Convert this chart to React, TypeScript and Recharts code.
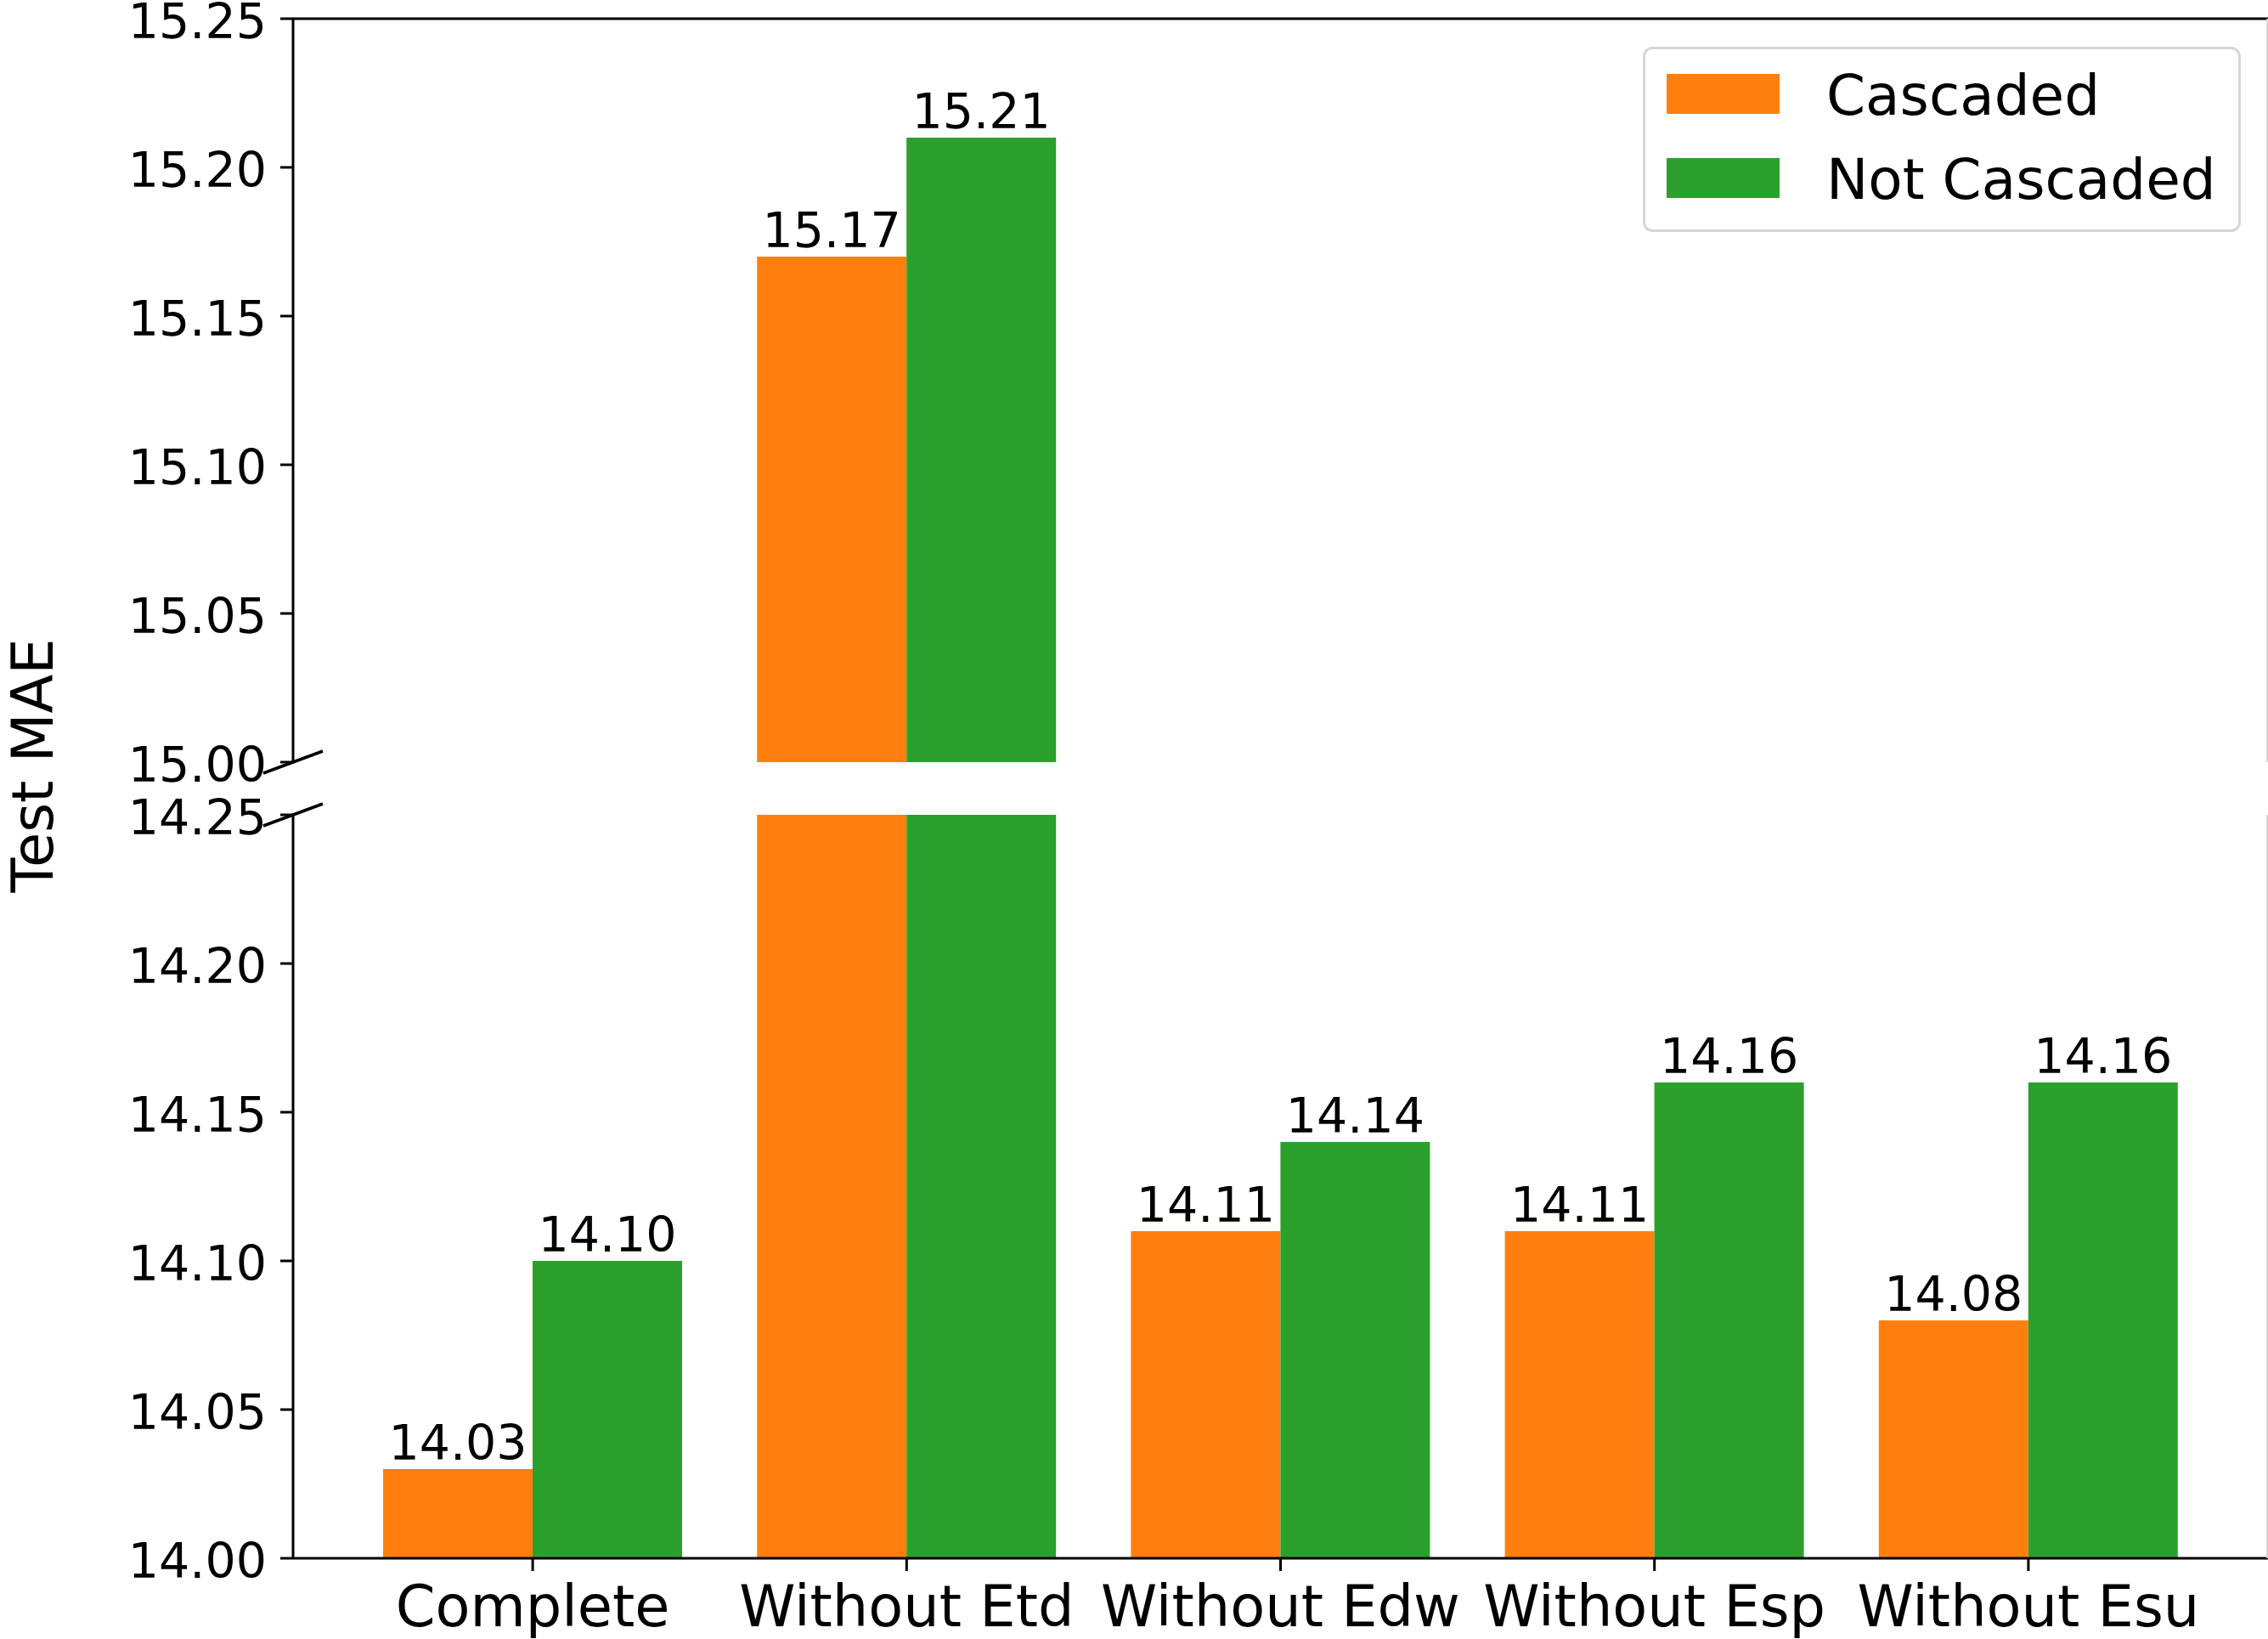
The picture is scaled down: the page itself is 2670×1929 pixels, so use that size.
import React from "react"
import { BarChart, Bar, XAxis, YAxis, Legend, LabelList } from "recharts"

const categories = ["Complete", "Without Etd", "Without Edw", "Without Esp", "Without Esu"]
const cascaded = [14.03, 15.17, 14.11, 14.11, 14.08]
const notCascaded = [14.1, 15.21, 14.14, 14.16, 14.16]

const upperTicks = [15.0, 15.05, 15.1, 15.15, 15.2, 15.25]
const lowerTicks = [14.0, 14.05, 14.1, 14.15, 14.2, 14.25]

const ORANGE = "#ff7f0e"
const GREEN = "#2ca02c"
const FONT = "DejaVu Sans"

const W = 2670
const H = 1929
const AXIS_X = 345
const UPPER_TOP = 22
const UPPER_BOTTOM = 897
const LOWER_TOP = 959
const LOWER_BOTTOM = 1834

const rows = categories.map((name, i) => ({ name, cascaded: cascaded[i], notCascaded: notCascaded[i] }))

// the upper panel only gets the values that reach into its range
const upperRows = rows.map((r) => ({
  name: r.name,
  cascaded: r.cascaded >= upperTicks[0] ? r.cascaded : null,
  notCascaded: r.notCascaded >= upperTicks[0] ? r.notCascaded : null,
}))

const makeLabel = (max: number) => (props: any) => {
  const { x, y, width, value } = props
  if (value == null || value > max) return null
  return (
    <text x={x + width / 2} y={y - 11} textAnchor="middle" fontFamily={FONT} fontSize={57} fill="#000">
      {Number(value).toFixed(2)}
    </text>
  )
}

const YTick = (props: any) => {
  const { x, y, payload } = props
  return (
    <text x={x} y={y} dy="0.4em" textAnchor="end" fontFamily={FONT} fontSize={57} fill="#000">
      {Number(payload.value).toFixed(2)}
    </text>
  )
}

const LegendBox = (props: any) => {
  const items = props.payload || []
  return (
    <svg width={704} height={218} style={{ display: "block" }}>
      <rect x={1.5} y={1.5} width={701} height={215} rx={10} fill="#fff" stroke="#d6d6d6" strokeWidth={3} />
      {items.map((it: any, i: number) => (
        <g key={it.value}>
          <rect x={28} y={32 + i * 99} width={133} height={47} fill={it.color} />
          <text x={216} y={80 + i * 99} fontFamily={FONT} fontSize={66} fill="#000">
            {it.value}
          </text>
        </g>
      ))}
    </svg>
  )
}

const axisLine = { stroke: "#000", strokeWidth: 3 }
const tickLine = { stroke: "#000", strokeWidth: 3 }

export default function App() {
  return (
    <div style={{ position: "absolute", left: 0, top: 0, width: W, height: H, background: "#fff" }}>
      <div style={{ position: "absolute", left: 0, top: 0 }}>
        <BarChart
          width={W}
          height={UPPER_BOTTOM + 40}
          data={upperRows}
          margin={{ top: 0, right: 0, left: 0, bottom: 40 }}
          barGap={0}
          barCategoryGap={44}
        >
          <XAxis
            dataKey="name"
            orientation="top"
            height={UPPER_TOP}
            tick={false}
            tickSize={15}
            axisLine={axisLine}
            tickLine={tickLine}
            padding={{ left: 62, right: 62 }}
          />
          <YAxis
            width={AXIS_X}
            domain={[15.0, 15.25]}
            ticks={upperTicks}
            interval={0}
            allowDataOverflow
            tick={<YTick />}
            tickSize={15}
            tickMargin={16}
            axisLine={axisLine}
            tickLine={tickLine}
          />
          <Legend
            layout="horizontal"
            verticalAlign="middle"
            align="center"
            content={<LegendBox />}
            wrapperStyle={{ position: "absolute", left: 1934, top: 55, width: 704, height: 218 }}
          />
          <Bar dataKey="cascaded" name="Cascaded" fill={ORANGE} isAnimationActive={false}>
            <LabelList dataKey="cascaded" content={makeLabel(15.25)} />
          </Bar>
          <Bar dataKey="notCascaded" name="Not Cascaded" fill={GREEN} isAnimationActive={false}>
            <LabelList dataKey="notCascaded" content={makeLabel(15.25)} />
          </Bar>
        </BarChart>
      </div>
      <div style={{ position: "absolute", left: 0, top: 0 }}>
        <BarChart width={W} height={H} data={rows} margin={{ top: LOWER_TOP, right: 0, left: 0, bottom: 0 }} barGap={0} barCategoryGap={44}>
          <XAxis
            dataKey="name"
            height={H - LOWER_BOTTOM}
            tick={{ fontFamily: FONT, fontSize: 67, fill: "#000" }}
            tickSize={15}
            tickMargin={17}
            axisLine={axisLine}
            tickLine={tickLine}
            interval={0}
            padding={{ left: 62, right: 62 }}
          />
          <YAxis
            width={AXIS_X}
            domain={[14.0, 14.25]}
            ticks={lowerTicks}
            interval={0}
            allowDataOverflow
            tick={<YTick />}
            tickSize={15}
            tickMargin={16}
            axisLine={axisLine}
            tickLine={tickLine}
          />
          <Bar dataKey="cascaded" name="Cascaded" fill={ORANGE} isAnimationActive={false}>
            <LabelList dataKey="cascaded" content={makeLabel(14.25)} />
          </Bar>
          <Bar dataKey="notCascaded" name="Not Cascaded" fill={GREEN} isAnimationActive={false}>
            <LabelList dataKey="notCascaded" content={makeLabel(14.25)} />
          </Bar>
        </BarChart>
      </div>
      {/* axis break marks, y label and the clipped right spine */}
      <svg width={W} height={H} style={{ position: "absolute", left: 0, top: 0, pointerEvents: "none" }}>
        <line x1={AXIS_X - 35} y1={UPPER_BOTTOM + 13} x2={AXIS_X + 35} y2={UPPER_BOTTOM - 13} stroke="#000" strokeWidth={3.5} />
        <line x1={AXIS_X - 35} y1={LOWER_TOP + 13} x2={AXIS_X + 35} y2={LOWER_TOP - 13} stroke="#000" strokeWidth={3.5} />
        <line x1={W - 1} y1={UPPER_TOP} x2={W - 1} y2={UPPER_BOTTOM} stroke="#d4d4d4" strokeWidth={2} />
        <line x1={W - 1} y1={LOWER_TOP} x2={W - 1} y2={LOWER_BOTTOM} stroke="#d4d4d4" strokeWidth={2} />
        <text
          x={62}
          y={901}
          transform="rotate(-90 62 901)"
          textAnchor="middle"
          fontFamily={FONT}
          fontSize={67}
          fill="#000"
        >
          Test MAE
        </text>
      </svg>
    </div>
  )
}
